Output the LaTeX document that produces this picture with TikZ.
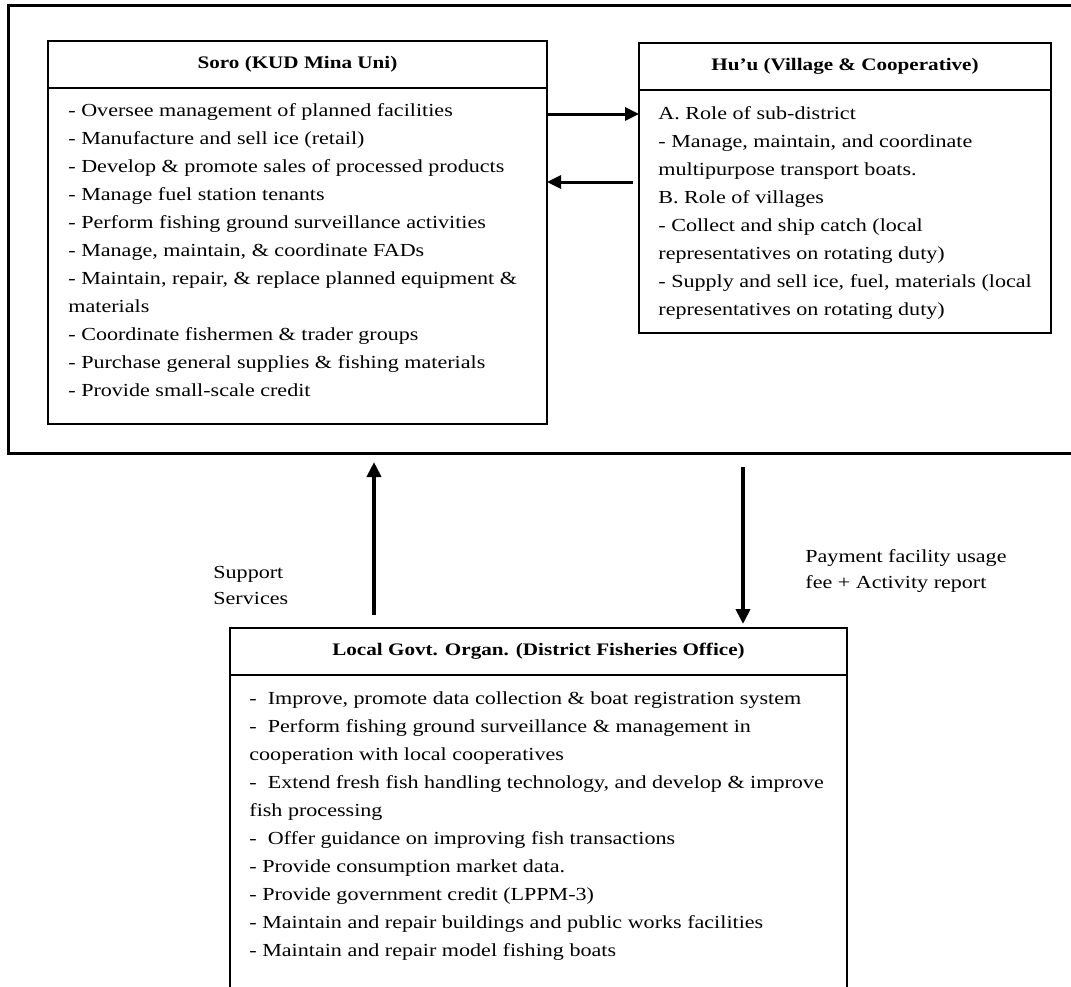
\documentclass[tikz,border=0pt]{standalone}
\usepackage{fontspec}
\setmainfont[FakeStretch=1.2]{Liberation Serif}
\usetikzlibrary{arrows.meta}
\begin{document}
\begin{tikzpicture}[x=0.5pt,y=-0.5pt,
  frame/.style={draw, line width=1.5pt, inner sep=0pt, outer sep=0pt, anchor=north west},
  panel/.style={draw, line width=1.1pt, inner sep=0pt, outer sep=0pt, anchor=north west},
  rule/.style={line width=1.1pt},
  heading/.style={font=\fontsize{8.8}{14}\selectfont\bfseries, inner sep=0pt},
  entry/.style={font=\fontsize{9.2}{14}\selectfont, inner sep=0pt, text height=6pt, text depth=2pt, anchor=west},
  note/.style={font=\fontsize{9.2}{13}\selectfont, inner sep=0pt, align=left, anchor=west},
  flow/.style={line width=1.5pt, -{Triangle[length=7pt,width=6.5pt]}},
  riser/.style={line width=1.9pt, -{Triangle[length=7.5pt,width=7pt]}}
]
\useasboundingbox (0,0) rectangle (1071,986);

% outer frame around the two partners
\node[frame, minimum width=543.5pt, minimum height=224pt] (frame) at (8,5) {};

% the three organisation boxes
\node[panel, minimum width=249.5pt, minimum height=191.5pt] (soro) at (48,41) {};
\node[panel, minimum width=206pt, minimum height=145pt] (huu) at (639,43) {};
\node[panel, minimum width=308.5pt, minimum height=200pt] (gov) at (230,628) {};

% header rules
\draw[rule] ([yshift=-23.5pt]soro.north west) -- ([yshift=-23.5pt]soro.north east);
\draw[rule] ([yshift=-23.5pt]huu.north west) -- ([yshift=-23.5pt]huu.north east);
\draw[rule] ([yshift=-23.5pt]gov.north west) -- ([yshift=-23.5pt]gov.north east);

% headings
\node[heading] (soro-title) at (297.5,64.5) {Soro (KUD Mina Uni)};
\node[heading] (huu-title) at (845,66.5) {Hu'u (Village \& Cooperative)};
\node[heading] (gov-title) at (538.5,651.5) {Local Govt. Organ. (District Fisheries Office)};

% Soro duties
\foreach \t [count=\i] in {
  {- Oversee management of planned facilities},
  {- Manufacture and sell ice (retail)},
  {- Develop \& promote sales of processed products},
  {- Manage fuel station tenants},
  {- Perform fishing ground surveillance activities},
  {- Manage, maintain, \& coordinate FADs},
  {- Maintain, repair, \& replace planned equipment \&},
  {materials},
  {- Coordinate fishermen \& trader groups},
  {- Purchase general supplies \& fishing materials},
  {- Provide small-scale credit}}
  \node[entry] (soro-\i) at (68,{112+28*(\i-1)}) {\t};

% Hu'u duties
\foreach \t [count=\i] in {
  {A. Role of sub-district},
  {- Manage, maintain, and coordinate},
  {multipurpose transport boats.},
  {B. Role of villages},
  {- Collect and ship catch (local},
  {representatives on rotating duty)},
  {- Supply and sell ice, fuel, materials (local},
  {representatives on rotating duty)}}
  \node[entry] (huu-\i) at (658,{115+28*(\i-1)}) {\t};

% District office duties
\foreach \t [count=\i] in {
  {-\ \ Improve, promote data collection \& boat registration system},
  {-\ \ Perform fishing ground surveillance \& management in},
  {cooperation with local cooperatives},
  {-\ \ Extend fresh fish handling technology, and develop \& improve},
  {fish processing},
  {-\ \ Offer guidance on improving fish transactions},
  {- Provide consumption market data.},
  {- Provide government credit (LPPM-3)},
  {- Maintain and repair buildings and public works facilities},
  {- Maintain and repair model fishing boats}}
  \node[entry] (gov-\i) at (249,{700+28*(\i-1)}) {\t};

% flow labels
\node[note] (support) at (213,585) {Support\\Services};
\node[note] (payment) at (805,571) {Payment facility usage\\fee + Activity report};

% connectors
\draw[flow] ([yshift=-36.5pt]soro.north east) -- ([yshift=-35.5pt]huu.north west);
\draw[flow] ([xshift=-3pt,yshift=-69.5pt]huu.north west) -- ([yshift=-70.5pt]soro.north east);
\draw[riser] ([xshift=72pt,yshift=6.5pt]gov.north west) -- ([xshift=183pt,yshift=-4.5pt]frame.south west);
\draw[riser] ([xshift=367.5pt,yshift=-7pt]frame.south west) -- ([xshift=256.5pt,yshift=2pt]gov.north west);
\end{tikzpicture}
\end{document}
